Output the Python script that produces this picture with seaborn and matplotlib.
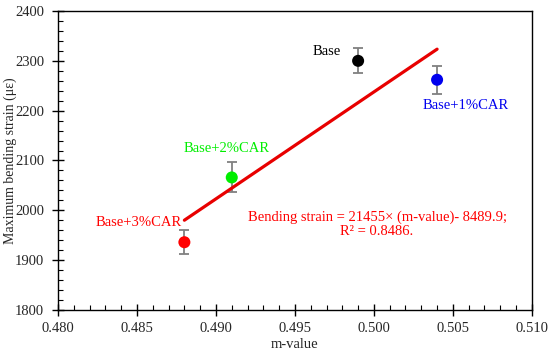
import numpy as np
import pandas as pd
import seaborn as sns
import matplotlib.pyplot as plt
from matplotlib.ticker import MultipleLocator

# data
labels = ['Base', 'Base+1%CAR', 'Base+2%CAR', 'Base+3%CAR']
m_value = [0.499, 0.504, 0.491, 0.488]
strain = [2300, 2262, 2066, 1936]
err = [25, 28, 30, 24]
colors = ['black', '#0000ee', '#00ee00', '#ff0000']

# linear fit from the chart: 21455*x - 8489.9
fit_x = [0.488, 0.504]
fit_y = [21455 * x - 8489.9 for x in fit_x]

df = pd.DataFrame({'label': labels, 'm': m_value, 'strain': strain, 'err': err})
fit_df = pd.DataFrame({'m': fit_x, 'strain': fit_y})

sns.set_style('white')
plt.rcParams['font.family'] = ['Liberation Serif', 'DejaVu Serif']

fig = plt.figure(figsize=(5.5, 3.55), dpi=100)
ax = fig.add_axes([0.1055, 0.1268, 0.8615, 0.8422])

ax.errorbar(df['m'], df['strain'], yerr=df['err'], fmt='none', ecolor='#808080',
            elinewidth=1.3, capsize=3.8, capthick=1.3, zorder=2)
sns.lineplot(data=fit_df, x='m', y='strain', color='#e80000', linewidth=2.3, ax=ax, zorder=3)
sns.scatterplot(data=df, x='m', y='strain', hue='label', palette=colors, s=75,
                edgecolor='none', legend=False, ax=ax, zorder=4)

fs = 10.5
ax.text(0.4970, 2318, 'Base', color='black', fontsize=fs, ha='center', va='center')
ax.text(0.5058, 2211, 'Base+1%CAR', color='#0000ee', fontsize=fs, ha='center', va='center')
ax.text(0.4907, 2125, 'Base+2%CAR', color='#00ee00', fontsize=fs, ha='center', va='center')
ax.text(0.4851, 1975, 'Base+3%CAR', color='#ff0000', fontsize=fs, ha='center', va='center')
ax.text(0.5002, 1972, 'Bending strain = 21455× (m-value)- 8489.9;\nR² = 0.8486.',
        color='#ff0000', fontsize=fs, ha='center', va='center', linespacing=1.15)

ax.set_xlim(0.480, 0.510)
ax.set_ylim(1800, 2400)
ax.xaxis.set_major_locator(MultipleLocator(0.005))
ax.xaxis.set_minor_locator(MultipleLocator(0.001))
ax.yaxis.set_major_locator(MultipleLocator(100))
ax.yaxis.set_minor_locator(MultipleLocator(20))
ax.xaxis.set_major_formatter(plt.FormatStrFormatter('%.3f'))
ax.tick_params(which='major', direction='inout', length=8, width=1, labelsize=fs, color='black')
ax.tick_params(axis='y', which='major', pad=6)
ax.tick_params(axis='x', which='major', pad=5)
ax.tick_params(which='minor', direction='in', length=3.5, width=0.8, color='black')
ax.tick_params(axis='both', which='both', bottom=True, left=True, top=False, right=False)
for sp in ax.spines.values():
    sp.set_color('black')
    sp.set_linewidth(1)

ax.set_xlabel('m-value', fontsize=fs, labelpad=2)
ax.set_ylabel('Maximum bending strain (με)', fontsize=10)
ax.yaxis.set_label_coords(-0.087, 0.5)

fig.savefig('out.png', dpi=100)
